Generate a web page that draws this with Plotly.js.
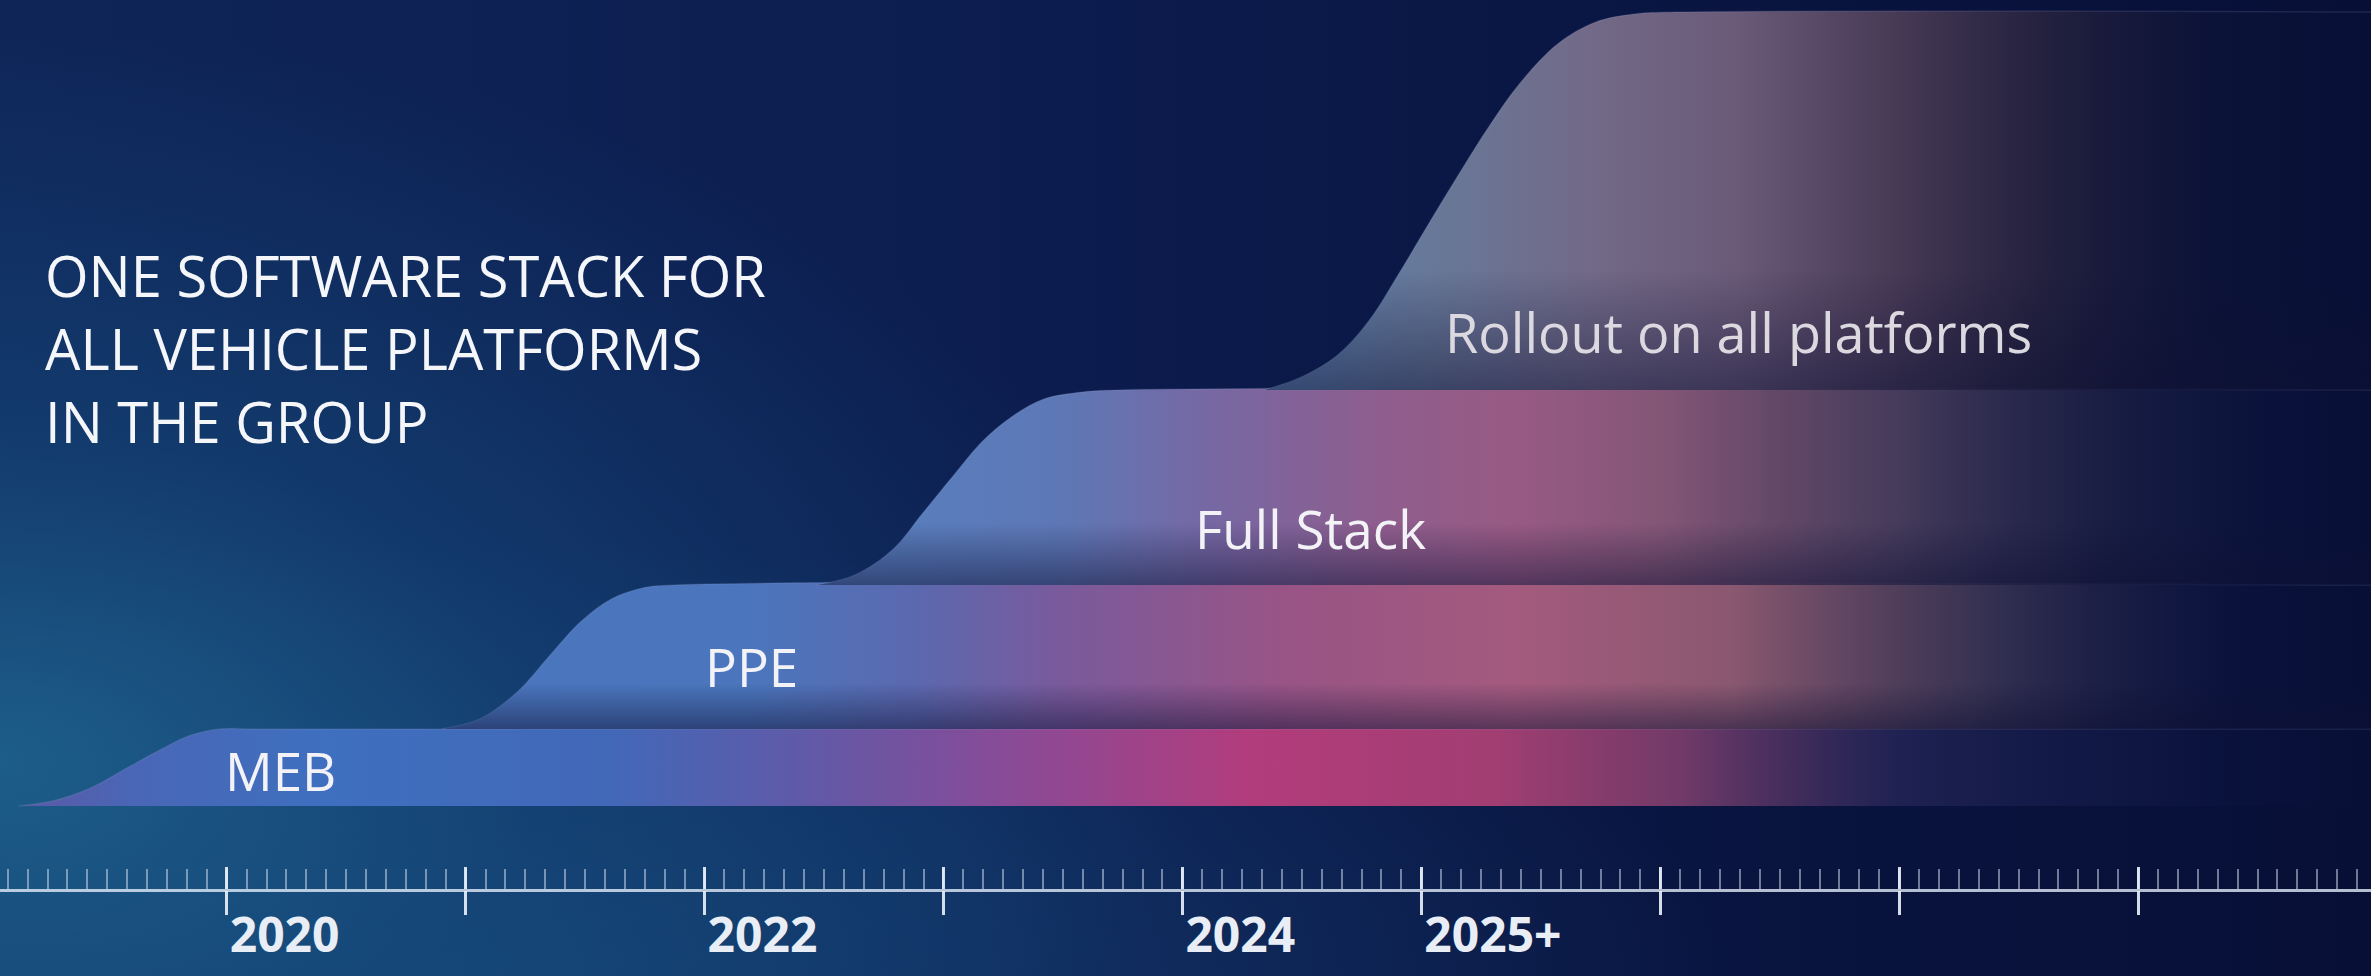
<!DOCTYPE html>
<html>
<head>
<meta charset="utf-8">
<script src="https://cdn.plot.ly/plotly-3.0.1.min.js"></script>
<style>
  html, body { margin: 0; padding: 0; }
  body {
    width: 2371px; height: 976px; overflow: hidden;
    background:
      radial-gradient(ellipse 50% 75% at 0% 78%, rgba(30,98,142,0.9) 0%, rgba(22,76,126,0.55) 45%, rgba(14,40,90,0) 100%),
      radial-gradient(ellipse 55% 45% at 18% 100%, rgba(24,82,132,0.65) 0%, rgba(14,40,90,0) 100%),
      linear-gradient(90deg, #0f2558 0%, #0c1c4e 45%, #09143f 75%, #070f36 100%);
  }
  #chart { width: 2371px; height: 976px; }
</style>
</head>
<body>
<div id="chart"></div>
<script>
// ---- data (years on x, cumulative stack height on y) ----
const tickYears  = [2020, 2021, 2022, 2023, 2024, 2025, 2026, 2027, 2028];
const tickLabels = ['2020', '', '2022', '', '2024', '2025+', '', '', ''];

const mebX  = [2019.13, 2019.27, 2019.43, 2019.59, 2019.72, 2019.84, 2019.97, 2020.13, 2028.98];
const mebY  = [0, 0.05, 0.18, 0.39, 0.56, 0.70, 0.77, 0.77, 0.77];

const ppeX  = [2020.90, 2021.06, 2021.22, 2021.35, 2021.48, 2021.61, 2021.74, 2021.87, 2028.98];
const ppeY  = [0.77, 0.87, 1.15, 1.50, 1.84, 2.07, 2.18, 2.21, 2.21];

const fullX = [2022.47, 2022.63, 2022.79, 2022.91, 2023.04, 2023.16, 2023.29, 2023.42, 2023.58, 2023.73, 2028.98];
const fullY = [2.21, 2.31, 2.57, 2.92, 3.30, 3.64, 3.90, 4.07, 4.14, 4.16, 4.16];

const rollX = [2024.34, 2024.49, 2024.65, 2024.78, 2024.91, 2025.03, 2025.16, 2025.29, 2025.41, 2025.57, 2025.73, 2025.89, 2026.08, 2028.98];
const rollY = [4.16, 4.28, 4.51, 4.85, 5.34, 5.82, 6.33, 6.82, 7.22, 7.62, 7.84, 7.92, 7.94, 7.94];

const bandNames = ['MEB', 'PPE', 'Full Stack', 'Rollout on all platforms'];

// ---- style: horizontal colour stops (year, colour) per band ----
const mebStops  = [[2019.13,'#5b5aa6'],[2019.6,'#4a66b6'],[2020.4,'#3f6fbf'],[2021.6,'#4268b8'],[2022.4,'#5f5aa8'],[2023.3,'#8a4a96'],[2024.3,'#b23c7c'],[2025.3,'#a23e72'],[2026.1,'#703a68'],[2027.0,'rgba(40,40,90,0.7)'],[2028.98,'rgba(12,22,70,0)']];
const ppeStops  = [[2020.90,'#4a76be'],[2022.2,'#4b76bd'],[2022.9,'#5c68ae'],[2023.5,'#7a5a9c'],[2024.4,'#985486'],[2025.4,'#a45a7e'],[2026.3,'#8a5870'],[2027.3,'rgba(70,60,88,0.8)'],[2028.4,'rgba(25,30,75,0.2)'],[2028.98,'rgba(12,22,70,0)']];
const fullStops = [[2022.47,'#5680c0'],[2023.5,'#5e78b6'],[2024.1,'#7668a4'],[2024.8,'#8e5e8e'],[2025.4,'#985a84'],[2026.0,'#845676'],[2027.0,'rgba(80,66,96,0.85)'],[2027.9,'rgba(40,40,75,0.5)'],[2028.98,'rgba(12,22,70,0)']];
const rollStops = [[2024.34,'#5a84b2'],[2025.06,'#687898'],[2025.7,'#726a88'],[2026.33,'#6a5a78'],[2026.96,'rgba(80,64,90,0.9)'],[2027.6,'rgba(48,40,64,0.7)'],[2028.2,'rgba(24,26,56,0.4)'],[2028.98,'rgba(12,20,56,0)']];

function gradient(stops) {
  const a = stops[0][0], b = stops[stops.length - 1][0];
  return {
    type: 'horizontal', start: a, stop: b,
    colorscale: stops.map(s => [(s[0] - a) / (b - a), s[1]])
  };
}

const bands = [
  {x: mebX,  y: mebY,  stops: mebStops},
  {x: ppeX,  y: ppeY,  stops: ppeStops},
  {x: fullX, y: fullY, stops: fullStops},
  {x: rollX, y: rollY, stops: rollStops}
];

const traces = [];
function floorTrace(b) {
  return {
    x: [b.x[0], b.x[b.x.length - 1]], y: [b.y[0], b.y[0]],
    mode: 'lines', line: {width: 0}, hoverinfo: 'skip', showlegend: false
  };
}
bands.forEach((b, i) => {
  const top = b.y[b.y.length - 1];
  if (i > 0) traces.push(floorTrace(b));
  traces.push({
    x: b.x, y: b.y, name: bandNames[i],
    mode: 'lines', line: {width: 1.5, shape: 'spline', smoothing: 1, color: 'rgba(170,180,220,0.14)'},
    fill: i === 0 ? 'tozeroy' : 'tonexty',
    fillgradient: gradient(b.stops),
    hoverinfo: 'skip', showlegend: false
  });
  if (i > 0) {
    // soft shadow along the floor of each upper band
    const h = top - b.y[0];
    traces.push(floorTrace(b));
    traces.push({
      x: b.x, y: b.y,
      mode: 'lines', line: {width: 0, shape: 'spline', smoothing: 1},
      fill: 'tonexty',
      fillgradient: {type: 'vertical', start: b.y[0], stop: b.y[0] + h * 0.32,
        colorscale: [[0, 'rgba(14,16,52,0.5)'], [1, 'rgba(14,16,52,0)']]},
      hoverinfo: 'skip', showlegend: false
    });
  }
});
// carrier for the second (downward major tick) axis
traces.push({x: tickYears, y: tickYears.map(() => null), xaxis: 'x2', mode: 'lines', hoverinfo: 'skip', showlegend: false});

const axisPos = 0.0881;
const labelFont = {family: 'Open Sans', size: 53, color: '#f2f2f7'};

const layout = {
  width: 2371, height: 976,
  margin: {l: 0, r: 0, t: 0, b: 0},
  paper_bgcolor: 'rgba(0,0,0,0)', plot_bgcolor: 'rgba(0,0,0,0)',
  showlegend: false,
  xaxis: {
    range: [2019.051, 2028.975], anchor: 'free', position: axisPos,
    showgrid: false, zeroline: false,
    showline: true, linecolor: 'rgba(225,235,248,0.8)', linewidth: 3,
    tickmode: 'array', tickvals: tickYears, ticktext: tickLabels,
    ticks: 'inside', ticklen: 22, tickwidth: 3, tickcolor: 'rgba(235,242,250,0.9)',
    ticklabelposition: 'outside right', ticklabelstandoff: 2,
    tickfont: {family: 'Open Sans', size: 48, color: '#e9eef6', weight: 'bold'},
    minor: {tick0: 2019, dtick: 1/12, ticks: 'inside', ticklen: 20, tickwidth: 2, tickcolor: 'rgba(215,228,245,0.5)', showgrid: false}
  },
  xaxis2: {
    matches: 'x', overlaying: 'x', anchor: 'free', position: axisPos,
    showgrid: false, zeroline: false, showline: false,
    tickmode: 'array', tickvals: tickYears,
    ticks: 'outside', ticklen: 24, tickwidth: 3, tickcolor: 'rgba(235,242,250,0.9)',
    showticklabels: false
  },
  yaxis: {
    range: [-1.70, 8.06], visible: false, showgrid: false, zeroline: false
  },
  annotations: [
    {xref: 'paper', yref: 'paper', x: 0.018, y: 0.643, xanchor: 'left', yanchor: 'middle', align: 'left',
     text: 'ONE SOFTWARE STACK FOR<br>ALL VEHICLE PLATFORMS<br>IN THE GROUP', showarrow: false,
     font: {family: 'Open Sans', size: 56, color: '#f4f6fa'}},
    {xref: 'x', yref: 'y', x: 2019.985, y: 0.36, xanchor: 'left', yanchor: 'middle', text: bandNames[0], showarrow: false, font: labelFont},
    {xref: 'x', yref: 'y', x: 2021.995, y: 1.40, xanchor: 'left', yanchor: 'middle', text: bandNames[1], showarrow: false, font: labelFont},
    {xref: 'x', yref: 'y', x: 2024.045, y: 2.78, xanchor: 'left', yanchor: 'middle', text: bandNames[2], showarrow: false, font: labelFont},
    {xref: 'x', yref: 'y', x: 2025.09, y: 4.74, xanchor: 'left', yanchor: 'middle', text: bandNames[3], showarrow: false,
     font: {family: 'Open Sans', size: 54, color: '#dcd8e0'}}
  ]
};

Plotly.newPlot('chart', traces, layout, {displayModeBar: false, staticPlot: true});
</script>
</body>
</html>
